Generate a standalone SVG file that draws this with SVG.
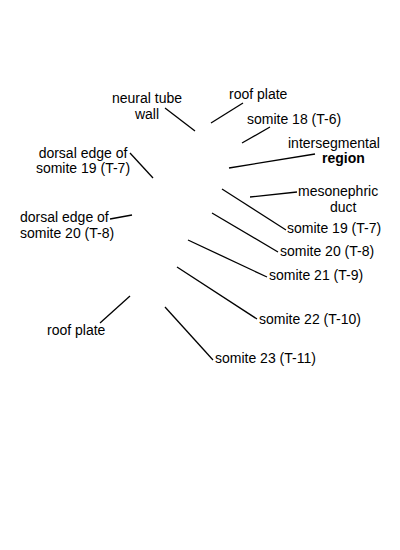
<svg xmlns="http://www.w3.org/2000/svg" width="400" height="550" viewBox="0 0 400 550">
<style>
text{font-family:"Liberation Sans",Arial,sans-serif;font-size:14px;fill:#000}
.b{font-weight:bold}
line{stroke:#000;stroke-width:1.3}
</style>
<rect width="400" height="550" fill="#fff"/>
<g id="connectors">
<line x1="165" y1="108" x2="195" y2="131"/>
<line x1="243" y1="103" x2="211" y2="123"/>
<line x1="270" y1="127" x2="242" y2="143"/>
<line x1="229" y1="168" x2="315" y2="154"/>
<line x1="250" y1="197" x2="297" y2="192"/>
<line x1="222" y1="189" x2="286" y2="230"/>
<line x1="212" y1="213" x2="278" y2="252"/>
<line x1="188" y1="240" x2="267" y2="277"/>
<line x1="177" y1="267" x2="257" y2="319"/>
<line x1="165" y1="307" x2="213" y2="360"/>
<line x1="130" y1="296" x2="100" y2="323"/>
<line x1="130" y1="153" x2="153" y2="178"/>
<line x1="110" y1="219" x2="132" y2="215"/>
</g>
<g id="neural-tube-wall"><text x="147" y="103" text-anchor="middle">neural tube</text><text x="147" y="119" text-anchor="middle">wall</text></g>
<g id="roof-plate-top"><text x="229" y="99">roof plate</text></g>
<g id="somite-18"><text x="247" y="124">somite 18 (T-6)</text></g>
<g id="intersegmental-region"><text x="288" y="148">intersegmental</text><text class="b" x="322" y="163">region</text></g>
<g id="mesonephric-duct"><text x="298" y="196">mesonephric</text><text x="330" y="212">duct</text></g>
<g id="somite-19"><text x="287" y="233">somite 19 (T-7)</text></g>
<g id="somite-20"><text x="280" y="256">somite 20 (T-8)</text></g>
<g id="somite-21"><text x="269" y="280">somite 21 (T-9)</text></g>
<g id="somite-22"><text x="259" y="324">somite 22 (T-10)</text></g>
<g id="somite-23"><text x="215" y="363">somite 23 (T-11)</text></g>
<g id="roof-plate-bottom"><text x="47" y="335">roof plate</text></g>
<g id="dorsal-edge-19"><text x="83" y="158" text-anchor="middle">dorsal edge of</text><text x="83" y="173" text-anchor="middle">somite 19 (T-7)</text></g>
<g id="dorsal-edge-20"><text x="20" y="222">dorsal edge of</text><text x="20" y="238">somite 20 (T-8)</text></g>
</svg>
